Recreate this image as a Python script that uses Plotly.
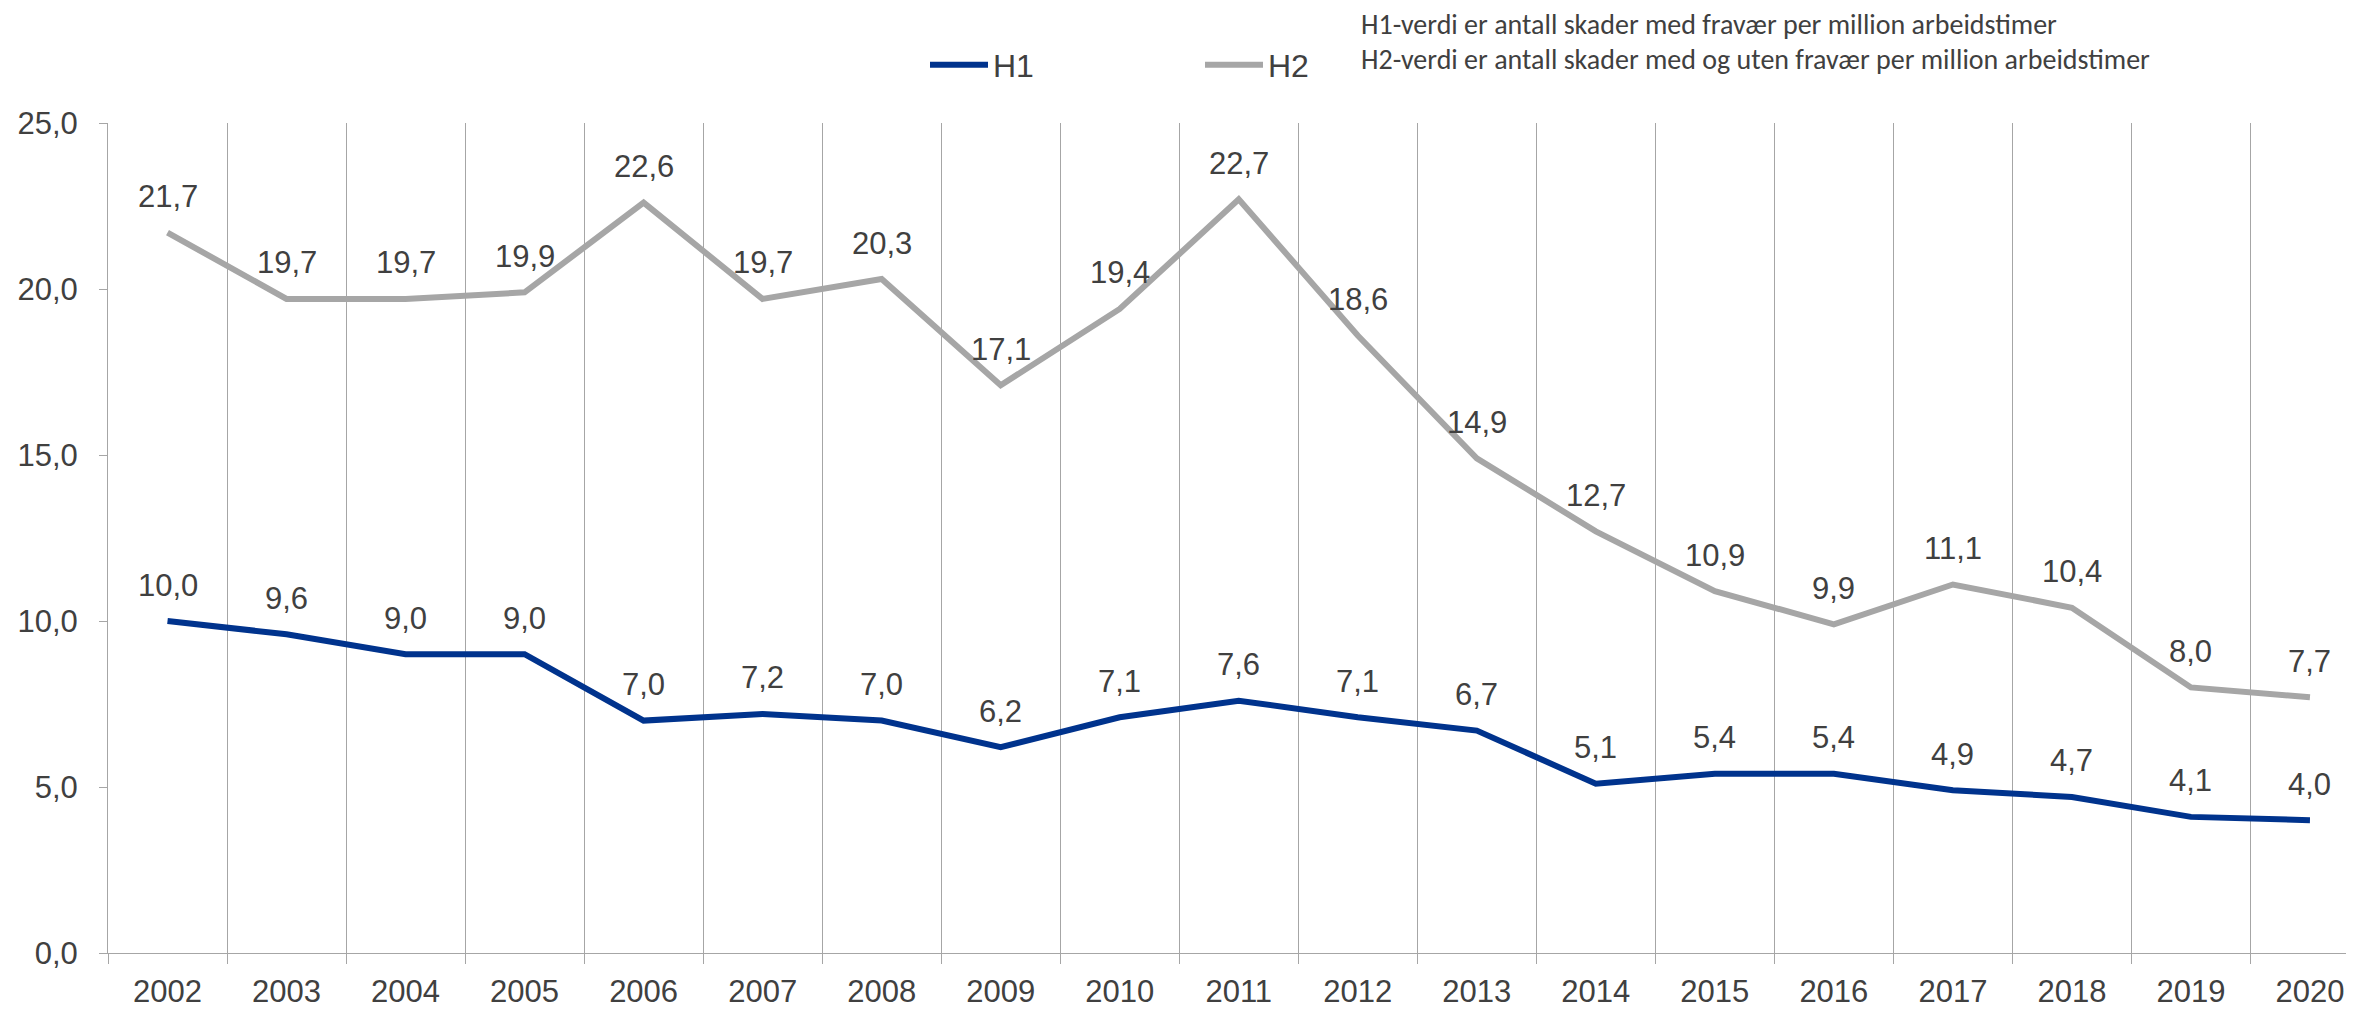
import plotly.graph_objects as go

years = [str(y) for y in range(2002, 2021)]
h1 = [10.0, 9.6, 9.0, 9.0, 7.0, 7.2, 7.0, 6.2, 7.1, 7.6, 7.1, 6.7, 5.1, 5.4, 5.4, 4.9, 4.7, 4.1, 4.0]
h2 = [21.7, 19.7, 19.7, 19.9, 22.6, 19.7, 20.3, 17.1, 19.4, 22.7, 18.6, 14.9, 12.7, 10.9, 9.9, 11.1, 10.4, 8.0, 7.7]
notes = [
    "H1-verdi er antall skader med fravær per million arbeidstimer",
    "H2-verdi er antall skader med og uten fravær per million arbeidstimer",
]

H1_COLOR = "#00338D"
H2_COLOR = "#A6A6A6"
TEXT = "#404040"
GRID = "#A6A6A6"

# page body has an 8px margin, so the figure is a bit smaller than the window
W, H = 2346, 1001


def fmt(v):
    return f"{v:.1f}".replace(".", ",")


fig = go.Figure()
fig.add_trace(go.Scatter(x=years, y=h1, mode="lines", name="H1",
                         line=dict(color=H1_COLOR, width=6)))
fig.add_trace(go.Scatter(x=years, y=h2, mode="lines", name="H2",
                         line=dict(color=H2_COLOR, width=6)))

# value labels above every point (category index on the x axis)
for series in (h1, h2):
    for i, v in enumerate(series):
        fig.add_annotation(x=i, y=v, xref="x", yref="y", text=fmt(v), showarrow=False,
                           yanchor="middle", yshift=36,
                           font=dict(family="Liberation Sans, Arial", size=31, color=TEXT))

for i, note in enumerate(notes):
    fig.add_annotation(xref="paper", yref="paper", x=0.5570, y=1.1185 - i * 0.042,
                       xanchor="left", yanchor="middle", showarrow=False, text=note,
                       font=dict(family="Carlito, Liberation Sans Narrow, Open Sans", size=28, color=TEXT))

fig.update_layout(
    width=W, height=H,
    margin=dict(l=100, r=0, t=115, b=53),
    plot_bgcolor="white", paper_bgcolor="white",
    separators=", ",
    font=dict(family="Liberation Sans, Arial", size=31, color=TEXT),
    showlegend=True,
    legend=dict(orientation="h", xref="container", yref="container",
                x=917 / W, y=1 - 57 / H, xanchor="left", yanchor="middle",
                entrywidth=202, entrywidthmode="pixels", itemwidth=58,
                font=dict(family="Liberation Sans Narrow, Arial Narrow, Liberation Sans", size=32, color=TEXT),
                bgcolor="rgba(0,0,0,0)"),
)

fig.update_xaxes(type="category", range=[-0.5, 18.37],
                 showgrid=True, gridcolor=GRID, gridwidth=1,
                 tickson="boundaries", ticks="outside", ticklen=10, tickcolor=GRID,
                 showline=True, linecolor=GRID, linewidth=1,
                 ticklabelstandoff=11,
                 tickfont=dict(size=31, color=TEXT), zeroline=False)
fig.update_yaxes(range=[0, 25], dtick=5, tickformat=".1f",
                 showgrid=False, zeroline=False,
                 ticks="outside", ticklen=8, tickcolor=GRID,
                 showline=True, linecolor=GRID, linewidth=1,
                 ticklabelstandoff=15,
                 tickfont=dict(size=31, color=TEXT))

fig.write_html("out.html")
